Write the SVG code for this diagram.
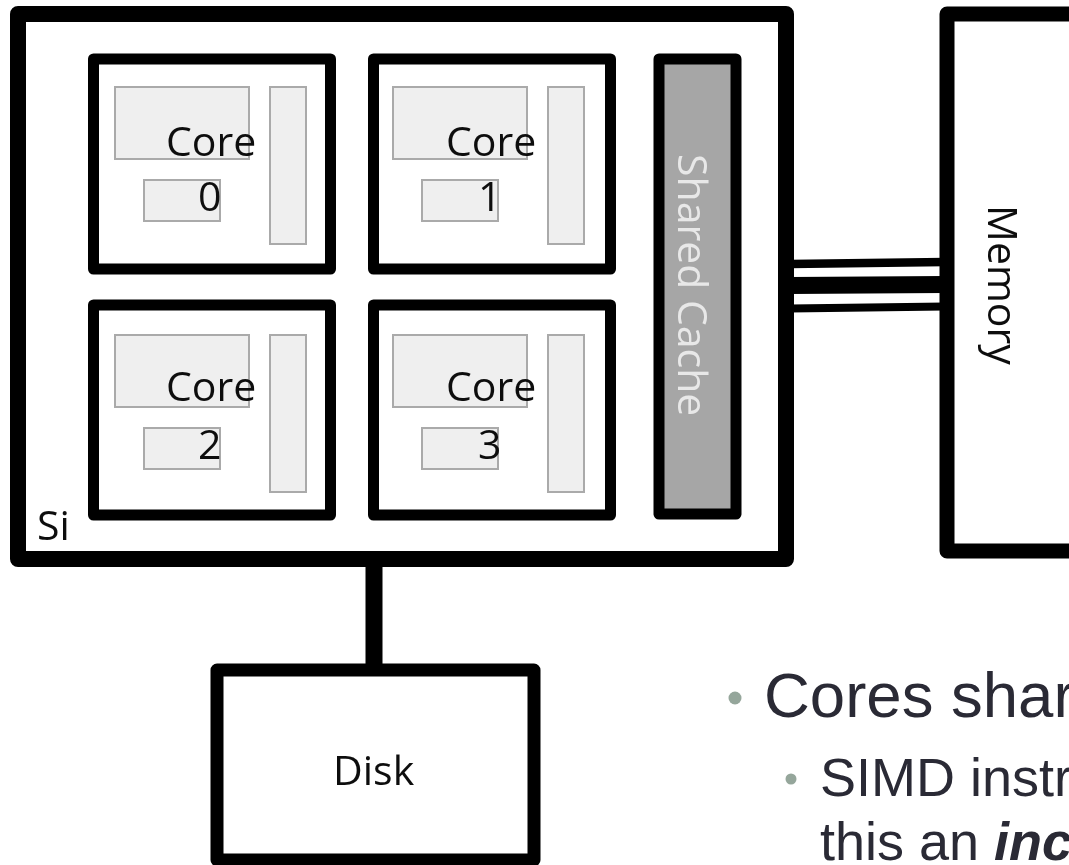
<svg xmlns="http://www.w3.org/2000/svg" width="1069" height="865" viewBox="0 0 1069 865">
<style>
.box{fill:#fff;stroke:#000;stroke-linejoin:round}
.part{fill:#efefef;stroke:#aaa;stroke-width:2}
.lbl{font-family:"Open Sans","Noto Sans",sans-serif;font-size:41px;fill:#111}
.bul{font-family:"Liberation Sans",Arial,sans-serif;fill:#2a2a35}
.dot{fill:#95a69b}
</style>
<defs>
<filter id="soft" x="-5%" y="-5%" width="110%" height="110%"><feGaussianBlur stdDeviation="0.7"/></filter>
<g id="parts">
<rect class="part" x="115" y="87" width="134" height="72"/>
<rect class="part" x="144" y="180" width="76" height="41"/>
<rect class="part" x="270" y="87" width="36" height="157"/>
</g>
</defs>
<g filter="url(#soft)">
<g id="connectors" fill="none" stroke="#000">
<line x1="374" y1="560" x2="374" y2="668" stroke-width="17"/>
<line x1="790" y1="264" x2="945" y2="262" stroke-width="8.500"/>
<line x1="790" y1="285.500" x2="945" y2="284.500" stroke-width="17"/>
<line x1="790" y1="308.500" x2="945" y2="306.500" stroke-width="8"/>
</g>
<g id="si"><rect class="box" x="18" y="14" width="768" height="545" stroke-width="16"/>
<text class="lbl" x="37" y="540">Si</text></g>
<g id="core0"><rect class="box" x="93.500" y="59" width="237" height="210" stroke-width="11"/>
<use href="#parts"/>
<text class="lbl" x="166" y="156">Core</text><text class="lbl" x="198" y="211">0</text></g>
<g id="core1"><rect class="box" x="373.500" y="59" width="237" height="210" stroke-width="11"/>
<use href="#parts" x="278"/>
<text class="lbl" x="446" y="156">Core</text><text class="lbl" x="478" y="211">1</text></g>
<g id="core2"><rect class="box" x="93.500" y="305" width="237" height="210" stroke-width="11"/>
<use href="#parts" y="248"/>
<text class="lbl" x="166" y="401">Core</text><text class="lbl" x="198" y="459">2</text></g>
<g id="core3"><rect class="box" x="373.500" y="305" width="237" height="210" stroke-width="11"/>
<use href="#parts" x="278" y="248"/>
<text class="lbl" x="446" y="401">Core</text><text class="lbl" x="478" y="459">3</text></g>
<g id="cache"><rect class="box" x="659" y="59" width="77" height="455" stroke-width="11" style="fill:#a6a6a6"/>
<text class="lbl" transform="translate(678 154) rotate(90)" style="fill:#e8e8e8">Shared Cache</text></g>
<g id="memory"><rect class="box" x="947" y="14" width="140" height="537" stroke-width="15"/>
<text class="lbl" transform="translate(988 205) rotate(90)">Memory</text></g>
<g id="disk"><rect class="box" x="217" y="670" width="317" height="190" stroke-width="13"/>
<text class="lbl" x="333" y="785">Disk</text></g>
</g>
<g id="bullets">
<circle class="dot" cx="735" cy="698" r="6.500"/>
<text class="bul" x="764" y="717" font-size="63.500">Cores shar</text>
<circle class="dot" cx="791" cy="779" r="5.500"/>
<text class="bul" x="820" y="796" font-size="54">SIMD instr</text>
<text class="bul" x="820" y="860" font-size="54">this an <tspan font-weight="bold" font-style="italic">inc</tspan></text>
</g>
</svg>
